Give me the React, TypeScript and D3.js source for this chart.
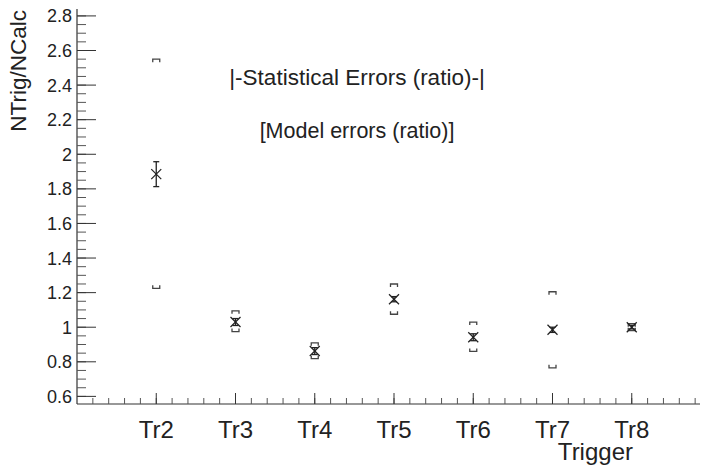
import React from "react";
import * as d3 from "d3";

const categories = ["Tr2", "Tr3", "Tr4", "Tr5", "Tr6", "Tr7", "Tr8"];
const ratios = [1.885, 1.03, 0.862, 1.162, 0.942, 0.985, 1.0];
const statErrors = [0.072, 0.02, 0.02, 0.015, 0.02, 0.015, 0.01];
const modelHigh = [2.55, 1.095, 0.91, 1.25, 1.03, 1.205, 1.02];
const modelLow = [1.225, 0.975, 0.818, 1.075, 0.86, 0.765, 0.98];
const yTickLabels = ["0.6", "0.8", "1", "1.2", "1.4", "1.6", "1.8", "2", "2.2", "2.4", "2.6", "2.8"];

const W = 701;
const H = 470;
const FONT = "'Liberation Sans', Arial, Helvetica, sans-serif";

export default function App() {
  const y = d3.scaleLinear().domain([0.556, 2.84]).range([404, 9]);
  const x = d3.scaleLinear().domain([1, 9]).range([77, 711]);
  const xEnd = 700;
  const yMajor = yTickLabels.map((t) => +t);
  const yMinor: number[] = [];
  for (let v = 0.6; v <= 2.8001; v += 0.05) yMinor.push(+v.toFixed(2));
  const xMinor: number[] = [];
  for (let v = 1.2; x(v) <= xEnd; v += 0.2) xMinor.push(+v.toFixed(2));
  const axisColor = "#333";
  const tickColor = "#555";

  return (
    <svg
      width={W}
      height={H}
      style={{ position: "fixed", left: 0, top: 0, background: "#fff" }}
      fontFamily={FONT}
    >
      <rect x={0} y={0} width={W} height={H} fill="#fff" />
      {/* Y axis */}
      <line x1={77} x2={77} y1={y(2.84)} y2={y(0.556)} stroke={axisColor} strokeWidth={1.2} />
      {yMinor.map((v, i) => (
        <line key={"ym" + i} x1={77} x2={86} y1={y(v)} y2={y(v)} stroke={tickColor} strokeWidth={1} />
      ))}
      {yMajor.map((v, i) => (
        <g key={"yM" + i}>
          <line x1={77} x2={96} y1={y(v)} y2={y(v)} stroke={axisColor} strokeWidth={1} />
          <text x={72} y={y(v)} dy="0.36em" textAnchor="end" fontSize={18} fill="#222">
            {yTickLabels[i]}
          </text>
        </g>
      ))}
      {/* X axis */}
      <line x1={77} x2={xEnd} y1={404} y2={404} stroke={axisColor} strokeWidth={1.2} />
      {xMinor.map((v, i) => (
        <line key={"xm" + i} x1={x(v)} x2={x(v)} y1={404} y2={398} stroke={tickColor} strokeWidth={1} />
      ))}
      {categories.map((c, i) => (
        <g key={"xM" + i}>
          <line x1={x(i + 2)} x2={x(i + 2)} y1={404} y2={393} stroke={axisColor} strokeWidth={1} />
          <text x={x(i + 2)} y={438} textAnchor="middle" fontSize={24} fill="#222">
            {c}
          </text>
        </g>
      ))}
      <text x={633} y={460} textAnchor="end" fontSize={24} fill="#222">
        Trigger
      </text>
      <text
        transform={`translate(26, 10) rotate(-90)`}
        textAnchor="end"
        fontSize={22.5}
        fill="#222"
      >
        NTrig/NCalc
      </text>
      {/* annotations */}
      <text x={357} y={85} textAnchor="middle" fontSize={22.5} fill="#222">
        |-Statistical Errors (ratio)-|
      </text>
      <text x={357} y={138} textAnchor="middle" fontSize={21.5} fill="#222">
        [Model errors (ratio)]
      </text>
      {/* data */}
      {categories.map((c, i) => {
        const cx = x(i + 2);
        const cy = y(ratios[i]);
        const yh = y(modelHigh[i]);
        const yl = y(modelLow[i]);
        const sh = y(ratios[i] + statErrors[i]);
        const sl = y(ratios[i] - statErrors[i]);
        const bw = 3.5;
        const leg = 3;
        const m = 5;
        return (
          <g key={"pt" + i}>
            <path
              d={`M${cx - bw},${yh + leg}V${yh}H${cx + bw}V${yh + leg}`}
              fill="none"
              stroke="#444"
              strokeWidth={1.3}
            />
            <path
              d={`M${cx - bw},${yl - leg}V${yl}H${cx + bw}V${yl - leg}`}
              fill="none"
              stroke="#444"
              strokeWidth={1.3}
            />
            <line x1={cx} x2={cx} y1={sh} y2={sl} stroke="#222" strokeWidth={1.3} />
            <line x1={cx - 3} x2={cx + 3} y1={sh} y2={sh} stroke="#222" strokeWidth={1.3} />
            <line x1={cx - 3} x2={cx + 3} y1={sl} y2={sl} stroke="#222" strokeWidth={1.3} />
            <line x1={cx - m} x2={cx + m} y1={cy - m} y2={cy + m} stroke="#222" strokeWidth={1.3} />
            <line x1={cx - m} x2={cx + m} y1={cy + m} y2={cy - m} stroke="#222" strokeWidth={1.3} />
          </g>
        );
      })}
    </svg>
  );
}
